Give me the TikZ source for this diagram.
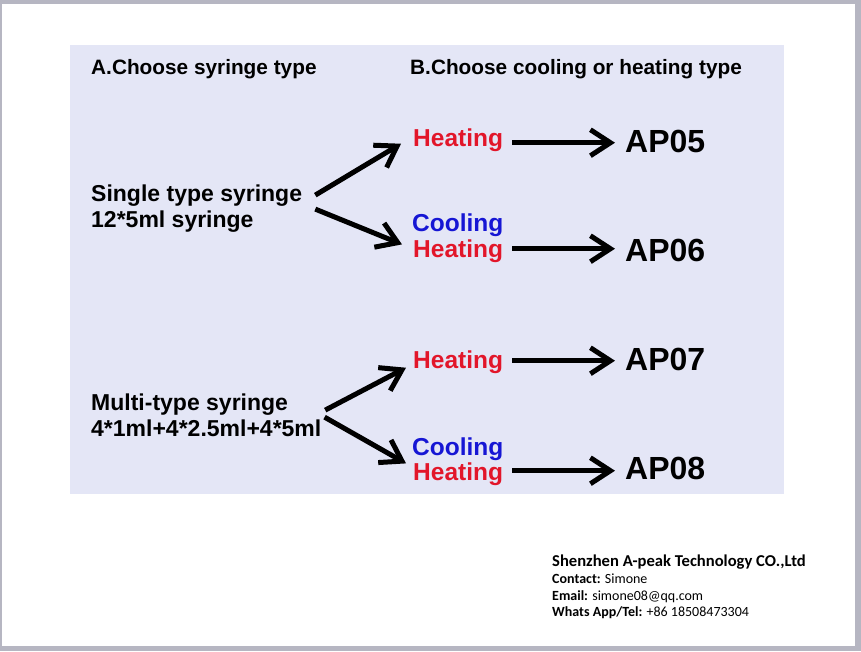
\documentclass[tikz,border=0pt]{standalone}
\usepackage{fontspec}
\setmainfont{Liberation Sans}
\newfontfamily\footfont{Carlito}
\usetikzlibrary{arrows.meta, calc, positioning}
\definecolor{panelblue}{RGB}{228,230,246}
\definecolor{framegray}{RGB}{182,182,194}
\definecolor{heatred}{RGB}{226,22,42}
\definecolor{coolblue}{RGB}{22,22,212}
\tikzset{
    heading/.style={font=\fontsize{20.8}{24}\selectfont\bfseries, anchor=base west, inner sep=0pt},
    syringe/.style={font=\fontsize{23}{26}\selectfont\bfseries, anchor=base west, inner sep=0pt},
    heat/.style={font=\fontsize{24.5}{28}\selectfont\bfseries, text=heatred, anchor=base west, inner sep=0pt},
    cool/.style={font=\fontsize{24.5}{28}\selectfont\bfseries, text=coolblue, anchor=base west, inner sep=0pt},
    model/.style={font=\fontsize{32}{36}\selectfont\bfseries, anchor=base west, inner sep=0pt},
    firm/.style={font=\footfont\fontsize{14}{17}\selectfont, anchor=base west, inner sep=0pt},
    pick/.style={line width=5pt, -{Straight Barb[length=20pt, width=26pt]}}
}

\begin{document}
\begin{tikzpicture}[x=1pt, y=-1pt]
    % page and panel
    \fill[framegray] (0,0) rectangle (861,651);
    \fill[white] (2,4) rectangle (855,646);
    \fill[panelblue] (70,45) rectangle (784,494);
    \useasboundingbox (0,0) rectangle (861,651);

    \node[heading] (stepA) at (91,74) {A.Choose syringe type};
    \node[heading] (stepB) at (410,74) {B.Choose cooling or heating type};

    % single type
    \node[syringe] (single) at (91,201) {Single type syringe};
    \node[syringe] (singleml) at (91,227) {12*5ml syringe};
    \node[heat] (heat1) at (413,146) {Heating};
    \node[cool] (cool1) at (412,231) {Cooling};
    \node[heat] (heat2) at (413,257) {Heating};
    \node[model] (ap05) at (625,152) {AP05};
    \node[model] (ap06) at (625,261) {AP06};

    % multi type
    \node[syringe] (multi) at (91,410) {Multi-type syringe};
    \node[syringe] (multiml) at (91,436) {4*1ml+4*2.5ml+4*5ml};
    \node[heat] (heat3) at (413,368) {Heating};
    \node[cool] (cool2) at (412,455) {Cooling};
    \node[heat] (heat4) at (413,480) {Heating};
    \node[model] (ap07) at (625,370) {AP07};
    \node[model] (ap08) at (625,479) {AP08};

    \draw[pick] ($(single.east)+(13,0)$) -- ($(heat1.west)+(-12,4)$);
    \draw[pick] ($(single.east)+(13,14)$) -- ($(cool1.south west)+(-10,8)$);
    \draw[pick] ($(multi.east)+(37,6)$) -- ($(heat3.west)+(-7,6)$);
    \draw[pick] ($(multiml.north east)+(3,-2)$) -- ($(cool2.south west)+(-6,3)$);

    \draw[pick] ($(heat1.east)+(9,3)$) -- ($(heat1.east -| ap05.west)+(-10,3)$);
    \draw[pick] ($(heat2.east)+(9,-2)$) -- ($(heat2.east -| ap06.west)+(-10,-2)$);
    \draw[pick] ($(heat3.east)+(9,-1)$) -- ($(heat3.east -| ap07.west)+(-10,-1)$);
    \draw[pick] ($(heat4.east)+(9,-3)$) -- ($(heat4.east -| ap08.west)+(-10,-3)$);

    % contact block
    \node[firm, font=\footfont\fontsize{16.6}{20}\selectfont\bfseries] (firmname) at (552,566) {Shenzhen A-peak Technology CO.,Ltd};
    \node[firm] (contact) at (552,583) {\textbf{Contact:} Simone};
    \node[firm] (email) at (552,600) {\textbf{Email:} simone08@qq.com};
    \node[firm] (phone) at (552,616) {\textbf{Whats App/Tel:} +86 18508473304};
\end{tikzpicture}
\end{document}
